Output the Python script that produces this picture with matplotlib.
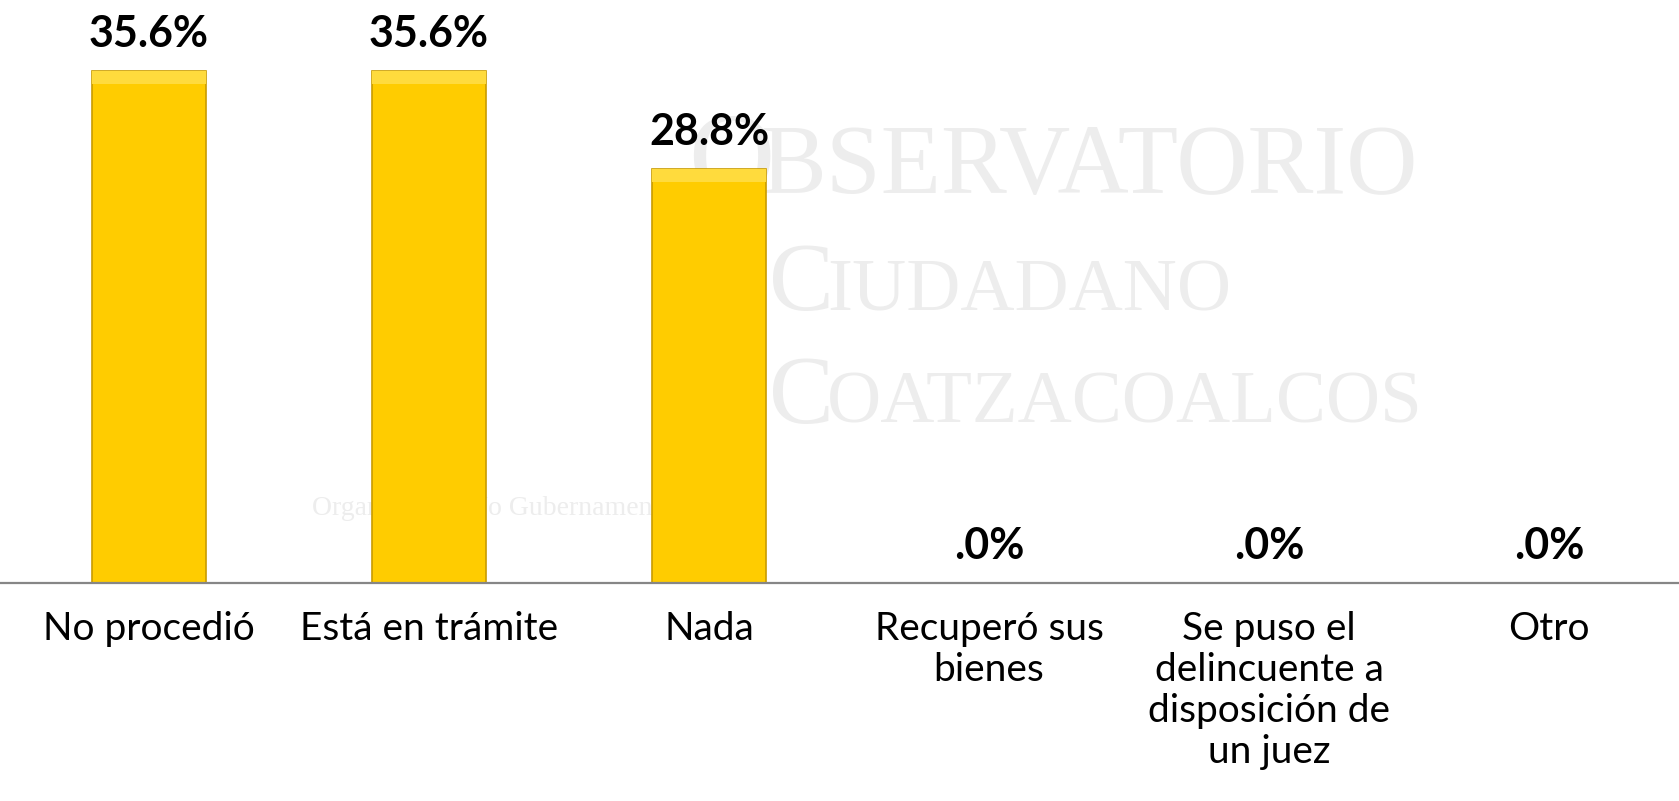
import matplotlib.pyplot as plt
from matplotlib.patches import Rectangle

categories = ["No procedió", "Está en trámite", "Nada", "Recuperó sus\nbienes",
              "Se puso el\ndelincuente a\ndisposición de\nun juez", "Otro"]
values = [35.6, 35.6, 28.8, 0.0, 0.0, 0.0]
labels = ["35.6%", "35.6%", "28.8%", ".0%", ".0%", ".0%"]

W, H = 1679, 801
fig = plt.figure(figsize=(W / 100, H / 100), dpi=100)
ax = fig.add_axes([0, 218 / H, 1, 583 / H])
ax.patch.set_alpha(0)

# faint watermark behind the bars
wm = dict(family="Liberation Serif", color="#ededed", zorder=0, va="baseline",
          ha="left", transform=fig.transFigure, clip_on=False)
ax.text(688 / W, 1 - 195 / H, "O", fontsize=86, **wm)
ax.text(760 / W, 1 - 193 / H, "BSERVATORIO", fontsize=71, **wm)
ax.text(769 / W, 1 - 310 / H, "C", fontsize=70, **wm)
ax.text(827 / W, 1 - 310 / H, "IUDADANO", fontsize=54, **wm)
ax.text(769 / W, 1 - 423 / H, "C", fontsize=70, **wm)
ax.text(827 / W, 1 - 423 / H, "OATZACOALCOS", fontsize=54, **wm)
ax.text(312 / W, 1 - 515 / H, "Organización No Gubernamental", fontsize=20, **wm)

x = list(range(len(categories)))
bw = 0.407
ax.bar(x, values, width=bw, color="#FFCC00", edgecolor="#C89B00", linewidth=1.2, zorder=2)
# bevel highlight on top of each bar
for xi, v in zip(x, values):
    if v > 0:
        ax.add_patch(Rectangle((xi - bw / 2, v - 0.9), bw, 0.9, facecolor="#FFDB3D",
                               edgecolor="none", zorder=3))

for xi, v, lab in zip(x, values, labels):
    ax.annotate(lab, (xi, v), xytext=(0, 17), textcoords="offset points",
                ha="center", va="baseline", fontsize=31, fontweight="bold",
                family="Lato", color="black", zorder=4)

ax.set_xlim(-149 / 280, (W - 149) / 280)
ax.set_ylim(0, 583 / 512 * 35.6)
ax.set_xticks(x)
ax.set_xticklabels(categories, fontsize=28, family="Lato", linespacing=1.17)
ax.tick_params(axis="x", length=0, pad=20)
ax.set_yticks([])
for s in ["top", "left", "right"]:
    ax.spines[s].set_visible(False)
ax.spines["bottom"].set_color("#868686")
ax.spines["bottom"].set_linewidth(1.6)

fig.savefig("out.png", dpi=100)
